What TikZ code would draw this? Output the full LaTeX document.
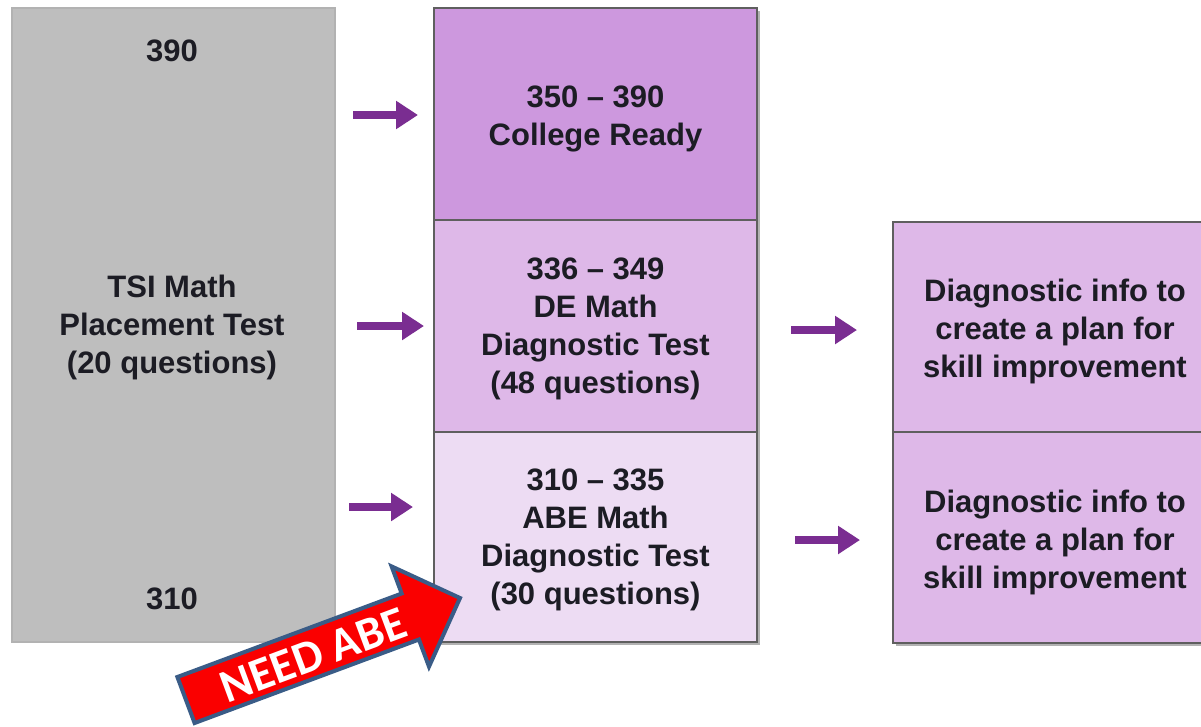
\documentclass[tikz,border=0pt]{standalone}
\usepackage{fontspec}
\setmainfont{Liberation Sans}
\newfontfamily\calib{Carlito}
\usetikzlibrary{arrows.meta,shadows}
\definecolor{grayfill}{RGB}{190,190,190}
\definecolor{grayedge}{RGB}{178,178,178}
\definecolor{ptop}{RGB}{205,152,222}
\definecolor{pmid}{RGB}{222,184,232}
\definecolor{pbot}{RGB}{237,220,243}
\definecolor{pright}{RGB}{222,184,232}
\definecolor{edge}{RGB}{95,95,95}
\definecolor{arrowpurple}{RGB}{122,45,145}
\definecolor{txt}{RGB}{28,28,36}
\definecolor{redfill}{RGB}{250,0,0}
\definecolor{blueedge}{RGB}{58,92,135}
\tikzset{
  lbl/.style={text=txt, font=\bfseries\fontsize{31}{38}\selectfont, align=center, inner sep=0pt},
  graybox/.style={rectangle, fill=grayfill, draw=grayedge, line width=1.5pt, inner sep=0pt},
  pbox/.style={rectangle, draw=edge, line width=2.5pt, inner sep=0pt, minimum width=323pt,
    drop shadow={shadow xshift=2.5pt, shadow yshift=-2.5pt, fill=black!30, opacity=1}},
  flow/.style={draw=arrowpurple, line width=8pt, -{Triangle[length=22pt,width=27pt]}, shorten >=0pt}
}
\begin{document}
\begin{tikzpicture}[x=1pt,y=-1pt]
\clip (0,0) rectangle (1201,726);
\fill[white] (0,0) rectangle (1201,726);
% left gray box
\node[graybox, minimum width=323pt, minimum height=634pt] (tsi) at (173.5,325) {};
\node[lbl] (top390) at (172,51) {390};
\node[lbl] (bot310) at (172,599) {310};
\node[lbl] (tsitext) at (172,327) {TSI Math\\Placement Test\\(20 questions)};
% middle column
\node[pbox, fill=ptop, minimum height=212pt] (cr) at (595.5,114) {};
\node[pbox, fill=pmid, minimum height=212pt] (de) at (595.5,326) {};
\node[pbox, fill=pbot, minimum height=210pt] (abe) at (595.5,537) {};
\node[lbl] (crt) at (595.5,119) {350 -- 390\\College Ready};
\node[lbl] (det) at (595.5,329) {336 -- 349\\DE Math\\Diagnostic Test\\(48 questions)};
\node[lbl] (abet) at (595.5,540) {310 -- 335\\ABE Math\\Diagnostic Test\\(30 questions)};
% right boxes
\node[pbox, fill=pright, minimum width=324pt, minimum height=210pt] (r1) at (1055,327) {};
\node[pbox, fill=pright, minimum width=324pt, minimum height=211pt] (r2) at (1055,537.5) {};
\node[lbl] (r1t) at (1055,331) {Diagnostic info to\\create a plan for\\skill improvement};
\node[lbl] (r2t) at (1055,542) {Diagnostic info to\\create a plan for\\skill improvement};
% purple arrows
\coordinate (a1s) at (353,115); \coordinate (a1e) at (418,115);
\coordinate (a2s) at (357,326); \coordinate (a2e) at (424,326);
\coordinate (a3s) at (349,507); \coordinate (a3e) at (413,507);
\coordinate (a4s) at (791,330); \coordinate (a4e) at (857,330);
\coordinate (a5s) at (795,540); \coordinate (a5e) at (860,540);
\draw[flow] (a1s) -- (a1e);
\draw[flow] (a2s) -- (a2e);
\draw[flow] (a3s) -- (a3e);
\draw[flow] (a4s) -- (a4e);
\draw[flow] (a5s) -- (a5e);
% big red arrow
\draw[fill=redfill, draw=blueedge, line width=4pt, line join=miter]
  (177.4,677) -- (401.7,593.5) -- (391.6,566.4) -- (460,598) -- (429,666.6)
  -- (418.9,639.5) -- (194.6,723) -- cycle;
\node[text=white, font=\calib\bfseries\fontsize{47}{47}\selectfont, rotate=20.4, inner sep=0pt] (need) at (313,655) {NEED ABE};
\end{tikzpicture}
\end{document}
